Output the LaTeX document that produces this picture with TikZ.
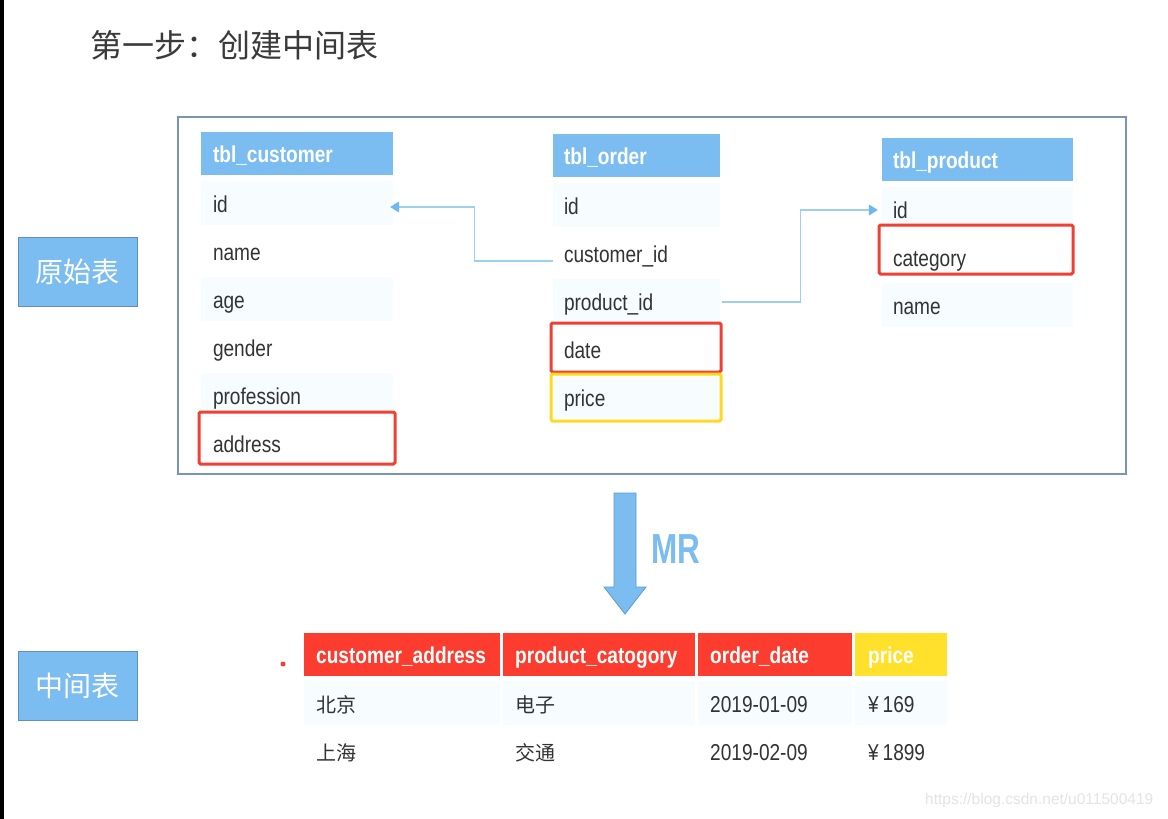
\documentclass[tikz,border=0pt]{standalone}
\usepackage{fontspec}
\setmainfont{Liberation Sans}
\newfontfamily\nar{Liberation Sans}[FakeStretch=0.83]
\newfontfamily\narr{Liberation Sans}[FakeStretch=0.75]
\newfontfamily\cjk{Noto Sans CJK SC}
\usetikzlibrary{arrows.meta}
\definecolor{hdrblue}{HTML}{7BBDF0}
\definecolor{lblborder}{HTML}{5E8FC0}
\definecolor{rowfill}{HTML}{F7FCFF}
\definecolor{txt}{HTML}{333333}
\definecolor{titlegray}{HTML}{3A3A3A}
\definecolor{framecol}{HTML}{7896B4}
\definecolor{hlred}{HTML}{F04034}
\definecolor{hlyellow}{HTML}{FFD920}
\definecolor{hdrred}{HTML}{FC3C2E}
\definecolor{hdryellow}{HTML}{FFE02A}
\definecolor{connblue}{HTML}{9DCFEF}
\definecolor{tipblue}{HTML}{6FB8EE}
\definecolor{arrowedge}{HTML}{5A9BD5}
\definecolor{wm}{HTML}{E4E4E4}
\tikzset{
  hdr/.style={fill=hdrblue, text=white, font=\nar\bfseries\fontsize{23}{26}\selectfont,
    minimum height=43, inner ysep=0, align=left, text height=20, text depth=2},
  row/.style={text=txt, font=\nar\fontsize{23}{26}\selectfont,
    minimum height=44, inner ysep=0, align=left, text height=20, text depth=2},
  alt/.style={fill=rowfill},
  hlbox/.style={draw=hlred, line width=3, rounded corners=1.5},
  ylbox/.style={draw=hlyellow, line width=3, rounded corners=1.5},
  conn/.style={draw=connblue, line width=1.2, -{Triangle[length=9,width=11,color=tipblue]}},
  lbl/.style={fill=hdrblue, draw=lblborder, line width=1, text=white,
    font=\cjk\fontsize{28}{32}\selectfont, minimum width=119, minimum height=69, inner sep=0},
  bh/.style={anchor=west, text=white, font=\nar\bfseries\fontsize{23}{26}\selectfont,
    minimum height=43, inner xsep=12, inner ysep=0, align=left, text height=20, text depth=2},
  bc/.style={anchor=west, text=txt, font=\nar\fontsize{23}{26}\selectfont,
    minimum height=44, inner xsep=12, inner ysep=0, align=left, text height=20, text depth=2},
  bcj/.style={bc, font=\cjk\fontsize{20}{24}\selectfont}
}
\begin{document}
\begin{tikzpicture}[x=1pt,y=-1pt]
\useasboundingbox (0,0) rectangle (1168,819);
\fill[white] (0,0) rectangle (1168,819);
\fill[black] (0,0) rectangle (4,819);

% title
\node[anchor=west, text=titlegray, font=\cjk\fontsize{32}{36}\selectfont, inner sep=0] (title) at (90,45) {第一步：创建中间表};

% frame
\node[draw=framecol, line width=2, minimum width=948, minimum height=357, inner sep=0] (frame) at (652,295.5) {};

% side labels
\node[lbl] (l1) at (77.5,271.5) {原始表};
\node[lbl] (l2) at (77.5,685.5) {中间表};

% tbl_customer (x 201-393)
\begin{scope}[every node/.append style={text width=168, inner xsep=12}]
\node[hdr] (c-h) at (297,153) {tbl\_customer};
\node[row,alt] (c-id) at (297,203) {id};
\node[row] (c-name) at (297,251) {name};
\node[row,alt] (c-age) at (297,299) {age};
\node[row] (c-gender) at (297,347) {gender};
\node[row,alt] (c-prof) at (297,395) {profession};
\node[row] (c-addr) at (297,443) {address};
\end{scope}
\draw[hlbox] (199,412) rectangle (395,464);

% tbl_order (x 553-720)
\begin{scope}[every node/.append style={text width=145, inner xsep=11}]
\node[hdr] (o-h) at (636.5,155.5) {tbl\_order};
\node[row,alt] (o-id) at (636.5,205) {id};
\node[row] (o-cid) at (636.5,253) {customer\_id};
\node[row,alt] (o-pid) at (636.5,301) {product\_id};
\node[row] (o-date) at (636.5,349) {date};
\node[row,alt] (o-price) at (636.5,397) {price};
\end{scope}
\draw[hlbox] (551,323) rectangle (721,372);
\draw[ylbox] (551,374) rectangle (721,421);

% tbl_product (x 882-1073)
\begin{scope}[every node/.append style={text width=169, inner xsep=11}]
\node[hdr] (p-h) at (977.5,159.5) {tbl\_product};
\node[row,alt] (p-id) at (977.5,209) {id};
\node[row] (p-cat) at (977.5,257) {category};
\node[row,alt] (p-name) at (977.5,305) {name};
\end{scope}
\draw[hlbox] (879,225) rectangle (1073,274);

% connectors
\draw[conn, shorten >=-3pt] ([yshift=-8pt]o-cid.west) -- ++(-78,0) |- ([yshift=-4pt]c-id.east);
\draw[conn, shorten >=4pt] ([yshift=-1pt,xshift=2pt]o-pid.east) -- ++(78,0) |- ([yshift=-1pt]p-id.west);

% MR arrow
\draw[fill=hdrblue, draw=arrowedge, line width=0.8]
  (614,493) -- (636,493) -- (636,587) -- (646,587) -- (625,614) -- (604,587) -- (614,587) -- cycle;
\node[text=hdrblue, font=\narr\bfseries\fontsize{42}{44}\selectfont, inner sep=0, anchor=west] (mr) at (651,549) {MR};

% red dot
\fill[hdrred] (283,664) circle (2.5);

% bottom table
\node[bh, fill=hdrred, minimum width=196, text width=172] (b-h1) at (304,654.5) {customer\_address};
\node[bh, fill=hdrred, minimum width=192, text width=168] (b-h2) at (503,654.5) {product\_catogory};
\node[bh, fill=hdrred, minimum width=154, text width=130] (b-h3) at (698,654.5) {order\_date};
\node[bh, fill=hdryellow, minimum width=91, text width=66, inner xsep=13] (b-h4) at (855,654.5) {price};

\node[bcj, fill=rowfill, text width=172] (b-11) at (304,703) {北京};
\node[bcj, fill=rowfill, text width=168] (b-12) at (503,703) {电子};
\node[bc, fill=rowfill, text width=130] (b-13) at (698,703) {2019-01-09};
\node[bc, fill=rowfill, text width=66, inner xsep=13] (b-14) at (855,703) {¥\,169};

\node[bcj, text width=172] (b-21) at (304,751) {上海};
\node[bcj, text width=168] (b-22) at (503,751) {交通};
\node[bc, text width=130] (b-23) at (698,751) {2019-02-09};
\node[bc, text width=66, inner xsep=13] (b-24) at (855,751) {¥\,1899};

% watermark
\node[anchor=west, text=wm, font=\fontsize{15.5}{17}\selectfont, inner sep=0] (wmk) at (925,800) {https://blog.csdn.net/u011500419};
\end{tikzpicture}
\end{document}
